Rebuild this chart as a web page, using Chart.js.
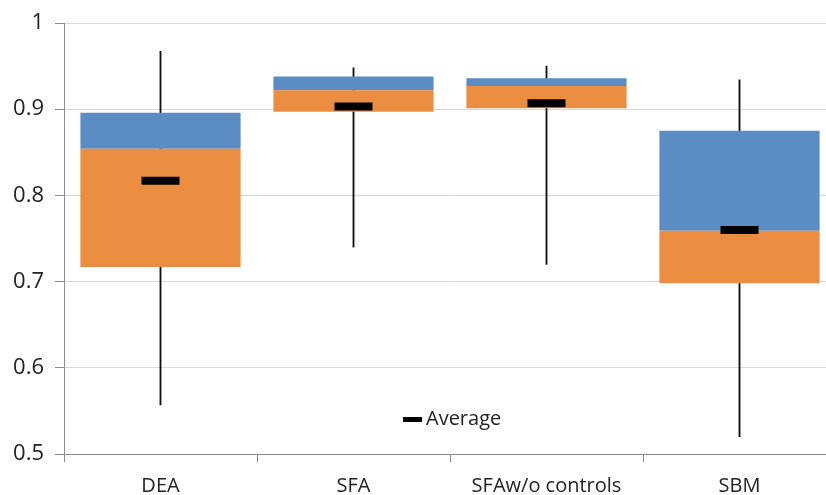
<!DOCTYPE html>
<html>
<head>
<meta charset="utf-8">
<script src="https://cdn.jsdelivr.net/npm/chart.js@4"></script>
<style>
  html, body { margin: 0; padding: 0; background: #fff; overflow: hidden; }
  #wrap { width: 826px; height: 495px; overflow: hidden; }
</style>
</head>
<body>
<div id="wrap"><canvas id="boxChart" width="846" height="495"></canvas></div>
<script>
const categories = ['DEA', 'SFA', 'SFAw/o controls', 'SBM'];
const minVals    = [0.557, 0.740, 0.720, 0.520];
const q1Vals     = [0.717, 0.897, 0.901, 0.698];
const medianVals = [0.854, 0.922, 0.927, 0.759];
const q3Vals     = [0.896, 0.938, 0.936, 0.875];
const maxVals    = [0.967, 0.948, 0.950, 0.934];
const avgVals    = [0.817, 0.903, 0.907, 0.760];
const yTicks     = [0.5, 0.6, 0.7, 0.8, 0.9, 1];

const fontFamily = '"Open Sans", Lato, sans-serif';

// legend sits inside the plot, bottom centre
const avgLegend = {
    id: 'avgLegend',
    afterDraw(chart) {
        const ctx = chart.ctx;
        const area = chart.chartArea;
        const x = area.left + 339;
        const y = area.top + 396;
        ctx.save();
        ctx.fillStyle = '#000';
        ctx.fillRect(x, y - 2, 19, 5);
        ctx.font = '20px ' + fontFamily;
        ctx.fillStyle = '#222';
        ctx.textBaseline = 'middle';
        ctx.fillText('Average', x + 23, y);
        ctx.restore();
    }
};

const ctx = document.getElementById('boxChart').getContext('2d');
const myChart = new Chart(ctx, {
    type: 'bar',
    data: {
        labels: categories,
        datasets: [
            {
                label: 'Whisker',
                data: categories.map((c, i) => [minVals[i], maxVals[i]]),
                backgroundColor: '#111',
                barThickness: 1.2,
                grouped: false,
                order: 3
            },
            {
                label: 'Lower box',
                data: categories.map((c, i) => [q1Vals[i], medianVals[i]]),
                backgroundColor: '#EB8D40',
                barPercentage: 0.83,
                categoryPercentage: 1,
                grouped: false,
                order: 2
            },
            {
                label: 'Upper box',
                data: categories.map((c, i) => [medianVals[i], q3Vals[i]]),
                backgroundColor: '#5B8CC4',
                barPercentage: 0.83,
                categoryPercentage: 1,
                grouped: false,
                order: 2
            },
            {
                type: 'line',
                label: 'Average',
                data: avgVals,
                showLine: false,
                pointStyle: 'line',
                pointRadius: 19,
                pointHoverRadius: 19,
                pointBorderWidth: 8,
                borderColor: '#000',
                backgroundColor: '#000',
                order: 1
            }
        ]
    },
    options: {
        responsive: false,
        animation: false,
        devicePixelRatio: 1,
        layout: {
            autoPadding: false,
            padding: { top: 23, right: 10, left: 0, bottom: 0 }
        },
        plugins: {
            legend: { display: false },
            tooltip: { enabled: false }
        },
        scales: {
            x: {
                offset: true,
                grid: {
                    offset: true,
                    drawOnChartArea: false,
                    tickLength: 8,
                    color: '#8c8c8c'
                },
                border: { color: '#8c8c8c' },
                ticks: {
                    color: '#222',
                    padding: 12,
                    font: { family: fontFamily, size: 20 }
                },
                afterFit(scale) {
                    scale.height = 41;
                    scale.paddingLeft = 0;
                    scale.paddingRight = 0;
                }
            },
            y: {
                min: 0.5,
                max: 1,
                afterBuildTicks(scale) { scale.ticks = yTicks.map(v => ({ value: v })); },
                grid: {
                    color: '#d9d9d9',
                    tickColor: '#8c8c8c',
                    tickLength: 9
                },
                border: { color: '#8c8c8c' },
                ticks: {
                    color: '#222',
                    padding: 11,
                    font: { family: fontFamily, size: 22 },
                    callback: v => String(+v.toFixed(1))
                },
                afterFit(scale) {
                    scale.width = 64;
                    scale.paddingTop = 0;
                    scale.paddingBottom = 0;
                }
            }
        }
    },
    plugins: [avgLegend]
});
</script>
</body>
</html>
